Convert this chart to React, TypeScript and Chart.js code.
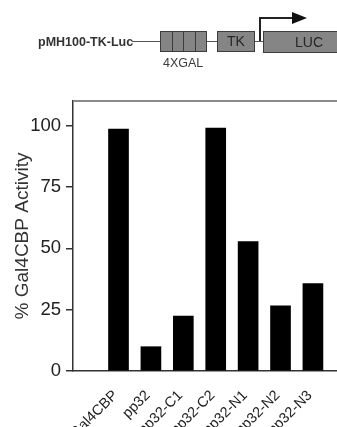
import React, { useEffect, useRef } from "react";
import { Chart, registerables } from "chart.js";

Chart.register(...registerables);

const categories = ["Gal4CBP", "pp32", "pp32-C1", "pp32-C2", "pp32-N1", "pp32-N2", "pp32-N3"];
const activity = [98.6, 9.9, 22.4, 99.0, 52.7, 26.6, 35.6];
const yTicks = [0, 25, 50, 75, 100];
const yTitle = "% Gal4CBP Activity";
const constructName = "pMH100-TK-Luc";
const elementLabels = ["4XGAL", "TK", "LUC"];

const FONT = "'Liberation Sans', Arial, Helvetica, sans-serif";

const frame = {
  id: "frame",
  beforeDatasetsDraw(chart: any) {
    const { ctx, chartArea } = chart;
    ctx.save();
    ctx.strokeStyle = "#8a8a8a";
    ctx.lineWidth = 2;
    ctx.beginPath();
    ctx.moveTo(chartArea.left, chartArea.top);
    ctx.lineTo(chartArea.right, chartArea.top);
    ctx.lineTo(chartArea.right, chartArea.bottom);
    ctx.stroke();
    ctx.restore();
  },
};

function Diagram() {
  const abs = (s: React.CSSProperties): React.CSSProperties => ({ position: "absolute", ...s });
  const box: React.CSSProperties = {
    position: "absolute",
    boxSizing: "border-box",
    border: "1px solid #3c3c3c",
    background: "#858585",
    color: "#262626",
    fontFamily: FONT,
    fontSize: 14,
    textAlign: "center",
  };
  return (
    <>
      <div style={abs({ left: 38, top: 34, lineHeight: "16px", fontSize: 12.5, fontWeight: "bold", color: "#333", fontFamily: FONT, whiteSpace: "nowrap" })}>{constructName}</div>
      <div style={abs({ left: 132, top: 41, width: 28, height: 1, background: "#555" })} />
      <div style={{ ...box, left: 160, top: 31, width: 47, height: 21 }} />
      {[172, 183, 195].map((x) => (
        <div key={x} style={abs({ left: x, top: 31, width: 1, height: 21, background: "#3c3c3c" })} />
      ))}
      <div style={abs({ left: 207, top: 41, width: 10, height: 1, background: "#555" })} />
      <div style={{ ...box, left: 217, top: 31, width: 38, height: 21, lineHeight: "19px" }}>{elementLabels[1]}</div>
      <div style={abs({ left: 255, top: 41, width: 8, height: 1, background: "#555" })} />
      <div style={{ ...box, left: 263, top: 31, width: 100, height: 22, lineHeight: "20px", textAlign: "left", paddingLeft: 31 }}>{elementLabels[2]}</div>
      <div style={abs({ left: 259, top: 18, width: 1.5, height: 23, background: "#222" })} />
      <div style={abs({ left: 259, top: 17, width: 34, height: 1.5, background: "#222" })} />
      <div style={abs({ left: 292, top: 12, width: 0, height: 0, borderLeft: "15px solid #111", borderTop: "6px solid transparent", borderBottom: "6px solid transparent" })} />
      <div style={abs({ left: 163, top: 55, lineHeight: "16px", fontSize: 12.5, color: "#3a3a3a", fontFamily: FONT })}>{elementLabels[0]}</div>
    </>
  );
}

export default function App() {
  const ref = useRef<HTMLCanvasElement | null>(null);
  useEffect(() => {
    if (!ref.current) return;
    const chart = new Chart(ref.current, {
      type: "bar",
      data: {
        datasets: [
          {
            data: activity.map((v, i) => ({ x: i, y: v })),
            backgroundColor: "#000",
            borderWidth: 0,
            barThickness: 20,
          },
        ],
      },
      options: {
        animation: false,
        responsive: false,
        devicePixelRatio: 1,
        layout: { padding: { top: 101, left: 0, right: 15, bottom: 0 } },
        plugins: { legend: { display: false }, tooltip: { enabled: false } },
        scales: {
          x: {
            type: "linear",
            min: -0.783,
            max: 6.677,
            afterBuildTicks: (s: any) => {
              s.ticks = categories.map((_, i) => ({ value: i }));
            },
            afterFit: (s: any) => {
              s.height = 56;
            },
            grid: { display: false },
            border: { display: true, color: "#333", width: 1.5 },
            ticks: {
              autoSkip: false,
              minRotation: 45,
              maxRotation: 45,
              padding: 8,
              labelOffset: -3,
              color: "#222",
              font: { family: FONT, size: 14.5 },
              callback: (v: any) => categories[v] ?? "",
            },
          },
          y: {
            min: 0,
            max: 110,
            afterBuildTicks: (s: any) => {
              s.ticks = yTicks.map((v) => ({ value: v }));
            },
            afterFit: (s: any) => {
              s.width = 73;
            },
            grid: { display: true, drawOnChartArea: false, drawTicks: true, tickLength: 7, color: "#333", lineWidth: 1.5 },
            border: { display: true, color: "#333", width: 1.5 },
            ticks: {
              padding: 5,
              color: "#222",
              font: { family: FONT, size: 18.5 },
            },
            title: {
              display: true,
              text: yTitle,
              color: "#333",
              font: { family: FONT, size: 19 },
              padding: { top: 11, bottom: 0 },
            },
          },
        },
      },
      plugins: [frame],
    });
    return () => chart.destroy();
  }, []);
  return (
    <div style={{ position: "absolute", left: 0, top: 0, width: 337, height: 427, overflow: "hidden", background: "#fff" }}>
      <canvas ref={ref} width={370} height={427} style={{ position: "absolute", left: 0, top: 0, width: 370, height: 427 }} />
      <Diagram />
    </div>
  );
}
